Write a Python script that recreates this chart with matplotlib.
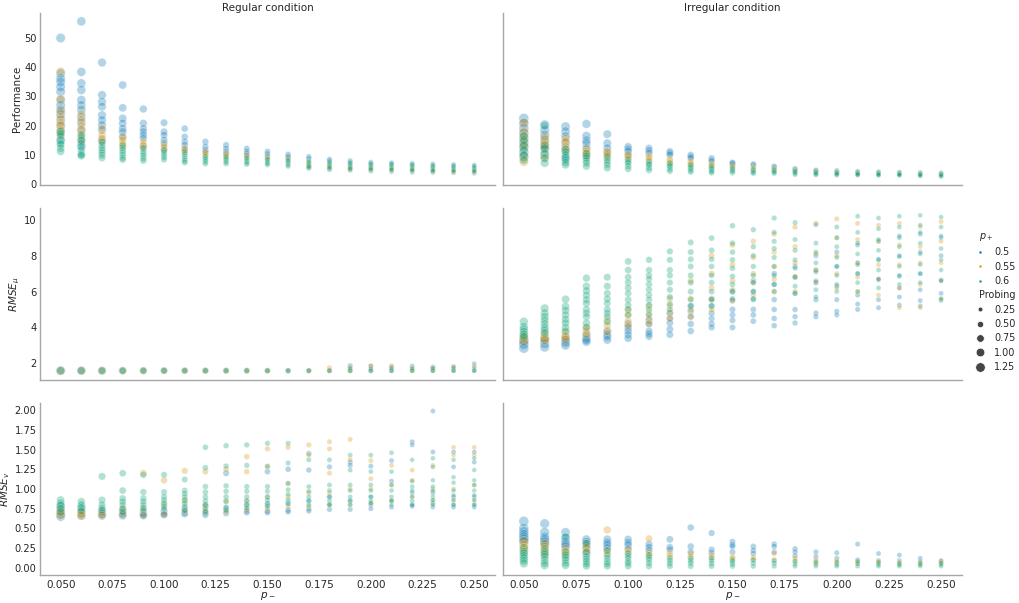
import numpy as np
import matplotlib.pyplot as plt
from matplotlib.lines import Line2D
from matplotlib.offsetbox import VPacker

# p_- values on the x axis
p_minus = [0.05, 0.06, 0.07, 0.08, 0.09, 0.10, 0.11, 0.12, 0.13, 0.14, 0.15,
           0.16, 0.17, 0.18, 0.19, 0.20, 0.21, 0.22, 0.23, 0.24, 0.25]
p_plus = ['0.5', '0.55', '0.6']
probing_ticks = ['0.25', '0.50', '0.75', '1.00', '1.25']
colors = ['#0173b2', '#de8f05', '#029e73']

# probing per p_- column (one list per p_+), regular / irregular
probe_reg_b = [1.15, 1.05, 0.95, 0.85, 0.75, 0.68, 0.6, 0.55, 0.5, 0.45, 0.42, 0.4, 0.37, 0.35, 0.33, 0.31, 0.3, 0.29, 0.28, 0.27, 0.26]
probe_reg_o = [1.0, 0.9, 0.8, 0.72, 0.65, 0.58, 0.52, 0.47, 0.43, 0.4, 0.37, 0.35, 0.33, 0.31, 0.3, 0.29, 0.28, 0.27, 0.26, 0.25, 0.25]
probe_reg_g = [0.85, 0.78, 0.7, 0.62, 0.56, 0.5, 0.46, 0.42, 0.39, 0.36, 0.34, 0.32, 0.3, 0.29, 0.28, 0.27, 0.26, 0.25, 0.25, 0.24, 0.24]
probe_irr_b = [1.3, 1.2, 1.1, 1.0, 0.9, 0.8, 0.72, 0.65, 0.58, 0.52, 0.47, 0.43, 0.4, 0.37, 0.34, 0.32, 0.3, 0.29, 0.28, 0.27, 0.26]
probe_irr_o = [1.15, 1.05, 0.95, 0.85, 0.77, 0.7, 0.63, 0.57, 0.52, 0.47, 0.43, 0.4, 0.37, 0.34, 0.32, 0.3, 0.29, 0.28, 0.27, 0.26, 0.25]
probe_irr_g = [1.0, 0.92, 0.84, 0.76, 0.69, 0.62, 0.56, 0.51, 0.47, 0.43, 0.4, 0.37, 0.34, 0.32, 0.3, 0.29, 0.28, 0.27, 0.26, 0.25, 0.25]

# Performance, regular condition
perf_reg_b = ["50 37.9 36.2 35 33.3 31.6 28.8 27 25.4 24 22 20 18 15",
              "55.7 38.4 34.5 32.2 28.8 27 25.4 23 21 18.5 15 13",
              "41.6 30.5 28.2 26.5 23.6 21.9 20.2 18.5 15",
              "33.9 26.1 22.5 20.8 19 17.9 16.2",
              "25.7 20.8 19 17.9 16.8 15.7 13",
              "21 17.9 16.8 15.1 14 12", "19 16.2 14.5 13.4 12",
              "14.5 12.8 11.7 11", "13.4 12.2 11.2 10.5", "12.2 11.2 10.5 9.8",
              "11.2 10.4 9.6", "10.2 9.5 9", "9.4 8.7 5.5", "8.5 8 5", "8 7.4 4.8",
              "7.5 7 4.5", "7.3 6.8 4.3", "7.1 6.5 4.1", "6.9 6.2 4", "6.7 6 3.9", "6.5 5.8 3.7"]
perf_reg_o = ["38.5 29 25 23 21 20 18.5 17", "24 22 20 18.5 16.8 15", "19 16.8 15.7 14.5",
              "16 15.1 14 13", "14.5 13.4 12.5", "13.4 12.8 11.5", "12.3 11.7 10.8",
              "11 10.6 10", "10.4 10 9.4", "9.8 9.2", "9.2 8.6", "8.5 8", "7.5 6.5 6",
              "7 6.2 5.6", "6.5 5.8 5.2", "6.2 5.5 5", "6 5.2 4.8", "5.8 5 4.6",
              "5.6 4.8 4.4", "5.4 4.6 4.2", "5.3 4.5 4.2"]
perf_reg_g = ["18 17.4 16.5 15.1 14 13.5 12.3 11.2", "17 16.2 15 14 12.8 11.7 10.5 10 9.7",
              "14.5 13.4 12.5 11.7 10.8 10 9", "13.4 12.5 11.7 10.8 10 9 8.4",
              "12.3 11.2 10.5 9.7 8.8 8", "11.7 10.8 10 9.2 8.4", "11.2 10.3 9.5 8.7 8 7.4",
              "9.5 9 8.4 7.7 7", "9.4 8.8 8.3 7.6 7", "9 8.4 7.9 7.3 6.8", "8.7 8.2 7.6 7.1 6.6",
              "8.3 7.8 7.2 6.6 6.1", "7.9 7.4 6.8 6.2 5.7", "7.6 7.1 6.4 5.9 5.4",
              "7.3 6.8 6.1 5.6 5.1", "7 6.5 5.9 5.4 5", "6.9 6.3 5.7 5.2 4.9",
              "6.7 6.1 5.5 5 4.7", "6.5 5.9 5.3 4.8 4.5", "6.4 5.8 5.2 4.7 4.4", "6.2 5.6 5 4.6 4.3"]

# Performance, irregular condition
perf_irr_b = ["22.5 20.8 19.1 17.4 15.7 14 12.8 11 9.5", "20.3 18.5 16.8 15.1 13.5 12.3 10",
              "19.7 18 16.3 14 11.7 9", "20.6 16.5 15 14 12.3 10", "17.1 14 12.3 11",
              "12.8 12 11.2 10", "12.3 11.5 10.6", "11.2 10.6 10", "10 9.4 8.9", "8.9 8.2 7.7",
              "7.4 7.2 6.8", "6.9 6.5", "6.1 5.8", "5.3 5", "4.8 4.6", "4.6 4.3", "4.4 4.1",
              "4.2 4", "4.1 3.9", "4 3.7", "3.9 3.6"]
perf_irr_o = ["21 17.9 16.2 14.5 12.8 9.5 7.7", "16 14.5 13.4 12 9", "15.5 14.5 12.8 11.5",
              "12 11.2 10.6 9.5", "11 10.5 10 9", "10 9.5 8.8", "9.5 8.9 8.2", "8.5 7.9 7.3",
              "7.8 7.2 6.7", "6.9 6.6 6.2", "6.2 5.9", "5.7 5.4", "5.3 5", "4.8 4.5", "4.4 4.2",
              "4.1 3.9", "3.9 3.7", "3.8 3.6", "3.7 3.5", "3.6 3.4", "3.5 3.3"]
perf_irr_g = ["16.5 15.1 13.4 11.7 10 8.3", "20 13 12.3 10.6 8.9 7.2", "12 11 10 9.1 8.3 7.4 6.6",
              "10.5 9.7 8.9 8 7.2 6.1", "9.5 8.3 7.5 6.6 5.5", "8.4 7.7 7.2 6.2 5.2",
              "7.7 7 6.6 5.6 4.8", "7.1 6.5 6.1 5.2 4.5", "6.6 6 5.5 4.8 4.2", "6 5.5 5 4.4 3.9",
              "5.5 5 4.5 3.9", "5 4.6 4.1 3.7", "4.9 4.5 4.1 3.7", "4.5 4.2 3.8 3.3",
              "4.2 3.9 3.5 3.2", "4 3.7 3.4 3.1", "3.9 3.6 3.3 3.1", "3.8 3.5 3.2 3",
              "3.7 3.4 3.2 3", "3.6 3.3 3 2.8", "3.5 3.2 2.9 2.6"]

# RMSE_mu, regular condition
rmu_reg_b = ["1.59"] * 14 + ["1.59 1.87", "1.59 1.85", "1.59 1.8", "1.59 1.85",
                             "1.59 1.8", "1.59 1.82", "1.59 1.98"]
rmu_reg_o = ["1.59"] * 13 + ["1.59 1.75", "1.59 1.78", "1.59 1.85", "1.59 1.86",
                             "1.59 1.75", "1.59 1.74", "1.59 1.8", "1.59 1.85"]
rmu_reg_g = ["1.59"] * 14 + ["1.59 1.72", "1.59 1.7", "1.59 1.72", "1.59 1.7",
                             "1.59 1.72", "1.59 1.74", "1.59 1.75"]

# RMSE_mu, irregular condition
rmu_irr_b = ["3.3 3.2 3.05 2.84", "3.4 3.3 3.1 2.9", "3.45 3.3 3.15 3.0", "3.6 3.4 3.3 3.2",
             "3.8 3.6 3.48 3.3", "4.2 4.0 3.8 3.6 3.4", "4.4 4.2 3.8 3.65 3.5",
             "4.8 4.5 4.25 3.9 3.6", "5.2 4.9 4.6 4.2 3.8", "5.6 5.2 4.8 4.5 4.2 4.0",
             "6.0 5.5 5.0 4.7 4.4 4.0", "6.6 6.0 5.55 5.0 4.7 4.35", "7.0 6.4 5.55 5.0 4.5 4.1",
             "7.4 6.8 5.9 5.0 4.6 4.25", "8.0 7.2 6.5 5.55 4.8 4.6", "8.2 7.4 6.3 5.55 4.9 4.7",
             "8.6 7.6 7.0 5.8 5.3 5.0", "8.8 7.8 6.65 5.55 5.1", "9.0 8.0 6.85 6.2 5.7 5.25",
             "9.2 8.2 7.0 6.1 5.5 5.2", "9.0 8.0 6.65 5.9 5.5"]
rmu_irr_o = ["3.55 3.4 3.25", "3.6 3.4 3.3", "3.7 3.47 3.35", "4.0 3.8 3.6", "4.4 4.1 3.76",
             "5.0 4.7 4.35 4.1", "5.2 4.8 4.5 4.2", "5.6 5.2 4.8 4.5", "6.6 5.6 5.0 4.6",
             "8.0 7.0 6.2 5.55 5.0", "8.6 7.5 6.6 6.1 5.5", "8.8 7.9 7.0 6.5 5.8",
             "9.2 8.2 7.4 6.7 6.0", "9.6 8.5 7.6 6.85 6.0", "9.8 8.1 7.2 6.5",
             "10.05 9.0 8.0 7.0 6.2", "9.8 8.9 7.6 6.8 6.0", "9.7 8.8 7.5 6.7 5.8",
             "9.8 8.6 7.5 6.2 5.1", "9.6 8.5 7.6 6.4 5.1", "9.9 8.8 7.6 6.6 5.6"]
rmu_irr_g = ["4.32 4.04 3.9 3.76 3.6 3.48", "5.07 4.8 4.6 4.4 4.2 4.0 3.85 3.7",
             "5.57 5.17 4.95 4.7 4.45 4.25 4.0 3.8", "6.75 6.3 6.05 5.8 5.55 5.35 5.0 4.8 4.6 4.25 4.0",
             "6.8 6.3 5.9 5.6 5.35 5.0 4.8 4.6 4.3", "7.68 7.2 6.8 6.5 6.2 5.9 5.55 5.25 5.0 4.7",
             "7.77 7.2 6.9 6.7 6.4 6.1 5.8 5.55 5.25 5.0 4.7", "8.24 7.77 7.2 6.9 6.5 6.1 5.7 5.3 5.0",
             "8.74 8.2 7.8 7.4 6.9 6.5 6.0 5.55 5.2", "8.98 8.3 7.8 7.4 6.9 6.5 6.0 5.55 5.2",
             "9.67 8.7 8.2 7.77 7.3 6.85 6.4 6.0 5.6", "9.45 8.5 8.0 7.4 6.9 6.5 6.0 5.6",
             "10.1 9.3 8.8 8.4 7.9 7.4 6.9 6.4 6.0", "9.85 8.9 8.3 7.77 7.3 6.8 6.3 5.9",
             "9.73 8.7 8.2 7.6 7.1 6.6 6.1 5.7", "9.6 9.0 8.5 7.9 7.4 6.9 6.4 6.0",
             "10.2 9.3 8.7 8.1 7.5 7.0 6.5 6.0", "10.1 9.5 8.9 8.3 7.77 7.2 6.7 6.2",
             "10.2 9.6 9.1 8.5 7.95 7.4 6.9 6.4", "10.25 9.7 9.3 8.7 8.1 7.5 7.0 6.5",
             "10.15 9.6 9.1 8.4 7.77 7.2 6.6 5.6"]

# RMSE_v, regular condition
rv_reg_b = ["0.78 0.72 0.68 0.65", "0.76 0.7 0.66", "0.72 0.68 0.66", "0.72 0.68 0.66",
            "0.7 0.67 0.66", "0.72 0.68 0.67", "0.75 0.7 0.68", "0.78 0.7 0.67", "1.2 0.75 0.69",
            "0.8 0.72 0.7", "1.22 0.8 0.72 0.7", "1.25 0.82 0.73 0.71", "1.45 1.24 0.85 0.75 0.72",
            "1.28 0.9 0.8 0.74", "1.34 1.3 0.85 0.74", "1.29 0.9 0.8 0.75", "1.36 1.1 0.85 0.77",
            "1.6 1.56 0.95 0.8 0.78", "1.99 1.47 0.95 0.82 0.77", "1.47 1.28 0.9 0.8 0.77",
            "1.47 1.34 0.9 0.8 0.77"]
rv_reg_o = ["0.74 0.7 0.67", "0.72 0.68 0.66", "0.7 0.67", "0.75 0.68", "1.2 0.75 0.67",
            "1.11 0.8 0.68", "1.23 0.85 0.72", "1.22 0.8 0.72", "1.25 0.85 0.71",
            "1.41 1.22 0.85 0.74", "1.51 1.28 0.9 0.75", "1.53 1.07 0.9 0.77", "1.56 1.43 0.95 0.78",
            "1.6 1.51 1.2 0.95 0.8", "1.63 1.37 1.0 0.8", "1.36 1.13 1.0 0.82", "1.3 1.05 0.85",
            "1.24 1.11 0.9", "1.3 1.0 0.85", "1.53 1.43 1.0 0.85", "1.53 1.43 1.05 0.85"]
rv_reg_g = ["0.86 0.82 0.79 0.75 0.71", "0.84 0.8 0.76 0.72", "1.16 0.86 0.8 0.76 0.73",
            "1.2 0.98 0.88 0.84 0.8 0.75 0.71", "1.18 0.96 0.88 0.84 0.8 0.76 0.73",
            "1.18 0.96 0.9 0.86 0.82 0.78 0.75", "1.12 0.98 0.94 0.9 0.86 0.82 0.78 0.73",
            "1.53 1.27 1.03 0.96 0.9 0.85 0.8 0.75 0.71", "1.55 1.29 1.04 0.97 0.9 0.84 0.77 0.73",
            "1.56 1.3 1.03 0.97 0.9 0.85 0.8 0.76", "1.58 1.29 1.03 0.97 0.9 0.86 0.82 0.78",
            "1.58 1.33 1.07 0.99 0.93 0.86 0.81", "1.37 1.03 0.97 0.9 0.85 0.8",
            "1.37 1.05 0.98 0.9 0.85 0.8", "1.43 1.24 1.05 0.98 0.9 0.85 0.8",
            "1.43 1.22 1.05 0.98 0.9 0.85 0.82", "1.46 1.22 1.05 0.98 0.9 0.85 0.8",
            "1.37 1.1 1.03 0.98 0.9 0.85 0.8", "1.39 1.28 1.11 1.03 0.98 0.9 0.86 0.8",
            "1.37 1.15 1.08 0.98 0.92 0.86 0.8", "1.39 1.24 1.11 1.05 0.98 0.92 0.86 0.8"]

# RMSE_v, irregular condition
rv_irr_b = ["0.59 0.5 0.46 0.42 0.39 0.36 0.33", "0.56 0.45 0.39 0.36 0.33 0.3",
            "0.45 0.38 0.33 0.3 0.27", "0.36 0.33 0.3 0.25 0.18", "0.36 0.32 0.29 0.25",
            "0.36 0.32 0.29 0.24", "0.3 0.26 0.22", "0.36 0.26 0.23", "0.51 0.27 0.2",
            "0.44 0.23 0.19", "0.33 0.29 0.27 0.2", "0.27 0.22 0.18", "0.3 0.27 0.2",
            "0.24 0.2 0.15", "0.2 0.14", "0.19 0.12", "0.3 0.1", "0.18 0.09", "0.16 0.09",
            "0.12 0.08", "0.09 0.07"]
rv_irr_o = ["0.34 0.29 0.25 0.22", "0.3 0.27 0.22 0.18", "0.24 0.2 0.17", "0.28 0.25 0.2",
            "0.48 0.22 0.18", "0.23 0.19", "0.37 0.19 0.16", "0.18 0.15", "0.18 0.14",
            "0.16 0.13", "0.14 0.12", "0.13 0.1", "0.18 0.1", "0.12 0.09", "0.1 0.08",
            "0.09 0.07", "0.08 0.06", "0.08 0.06", "0.07 0.05", "0.07 0.05", "0.09 0.06"]
rv_irr_g = ["0.25 0.2 0.18 0.15 0.12 0.09 0.055", "0.24 0.2 0.17 0.14 0.1 0.06 0.03",
            "0.39 0.2 0.16 0.13 0.1 0.06 0.03", "0.31 0.2 0.14 0.11 0.08 0.05 0.02",
            "0.22 0.16 0.12 0.08 0.05 0.02", "0.18 0.15 0.12 0.08 0.055 0.02",
            "0.16 0.13 0.1 0.06 0.02", "0.12 0.09 0.055 0.02", "0.12 0.09 0.06 0.02",
            "0.12 0.09 0.055 0.02", "0.1 0.08 0.05 0.02", "0.1 0.06 0.02", "0.09 0.06 0.02",
            "0.08 0.05 0.02", "0.07 0.05 0.02", "0.07 0.04 0.02", "0.08 0.05 0.02",
            "0.07 0.04 0.02", "0.06 0.04 0.02", "0.06 0.04 0.02", "0.06 0.04 0.02"]


def size_of(p):
    return 3 + 36 * p


def draw(ax, series, probes):
    for cols, probe, c in zip(series, probes, colors):
        xs, ys, ss = [], [], []
        for x, col, p in zip(p_minus, cols, probe):
            for v in col.split():
                xs.append(x)
                ys.append(float(v))
                ss.append(size_of(p))
        ax.scatter(xs, ys, s=ss, c=c, alpha=0.3, edgecolors='w', linewidths=0.5)


fig = plt.figure(figsize=(10.2, 6.03), dpi=100)
lefts = [0.0392, 0.4931]
widths = [0.446, 0.450]
bottoms = [0.6932, 0.3698, 0.0464]
height = 0.285
fs = 7.1
txt = '0.15'

probes_reg = [probe_reg_b, probe_reg_o, probe_reg_g]
probes_irr = [probe_irr_b, probe_irr_o, probe_irr_g]
rows = [
    ([perf_reg_b, perf_reg_o, perf_reg_g], [perf_irr_b, perf_irr_o, perf_irr_g],
     'Performance', (-0.3, 58.5), [0, 10, 20, 30, 40, 50], None),
    ([rmu_reg_b, rmu_reg_o, rmu_reg_g], [rmu_irr_b, rmu_irr_o, rmu_irr_g],
     r'$RMSE_\mu$', (1.07, 10.65), [2, 4, 6, 8, 10], None),
    ([rv_reg_b, rv_reg_o, rv_reg_g], [rv_irr_b, rv_irr_o, rv_irr_g],
     r'$RMSE_v$', (-0.093, 2.09), [0, 0.25, 0.5, 0.75, 1.0, 1.25, 1.5, 1.75, 2.0], '%.2f'),
]

xticks = [0.05, 0.075, 0.1, 0.125, 0.15, 0.175, 0.2, 0.225, 0.25]
for r, (reg, irr, ylab, ylim, yt, fmt) in enumerate(rows):
    for ci, (data, probes) in enumerate([(reg, probes_reg), (irr, probes_irr)]):
        ax = fig.add_axes([lefts[ci], bottoms[r], widths[ci], height])
        draw(ax, data, probes)
        ax.set_xlim(0.04, 0.26)
        ax.set_ylim(*ylim)
        ax.set_xticks(xticks)
        ax.set_yticks(yt)
        ax.set_xticklabels(['%.3f' % t for t in xticks])
        if fmt:
            ax.set_yticklabels([fmt % t for t in yt])
        for s in ['top', 'right']:
            ax.spines[s].set_visible(False)
        for s in ['left', 'bottom']:
            ax.spines[s].set_color('0.65')
            ax.spines[s].set_linewidth(1)
        ax.tick_params(length=0, labelsize=fs, labelcolor=txt)
        ax.tick_params(axis='x', pad=3.5, labelsize=fs + 0.4)
        ax.tick_params(axis='y', pad=2.5)
        if ci == 0:
            ax.set_ylabel(ylab, fontsize=fs + 0.4, color=txt, labelpad=1.5)
        else:
            ax.tick_params(labelleft=False)
        if r < 2:
            ax.tick_params(labelbottom=False)
        else:
            ax.set_xlabel(r'$p_-$', fontsize=fs + 0.4, color=txt, labelpad=0)
        if r == 0:
            ax.set_title(['Regular condition', 'Irregular condition'][ci],
                         fontsize=fs + 0.4, color=txt, pad=1.8)

# legend in the seaborn style: hue block then size block
handles = [Line2D([], [], linestyle='', marker='o', visible=False)]
labels = [r'$p_+$']
for lab, c in zip(p_plus, colors):
    handles.append(Line2D([], [], linestyle='', marker='o', color=c, markersize=2,
                          markeredgecolor='w', markeredgewidth=0.2))
    labels.append(lab)
handles.append(Line2D([], [], linestyle='', marker='o', visible=False))
labels.append('Probing')
for lab in probing_ticks:
    handles.append(Line2D([], [], linestyle='', marker='o', color='0.27',
                          markersize=np.sqrt(size_of(float(lab))),
                          markeredgecolor='w', markeredgewidth=0.5))
    labels.append(lab)
leg = fig.legend(handles, labels, loc='center left', bbox_to_anchor=(0.9485, 0.5),
                 frameon=False, fontsize=6.9, labelspacing=0.45, handletextpad=0.7,
                 handlelength=1.6, borderpad=0)
for hp in leg.findobj(VPacker)[0].get_children():
    da, ta = hp.get_children()
    if not all(a.get_visible() for a in da.get_children()):
        da.set_width(0)
for t in leg.get_texts():
    t.set_color(txt)

fig.savefig('out.png', dpi=100)
